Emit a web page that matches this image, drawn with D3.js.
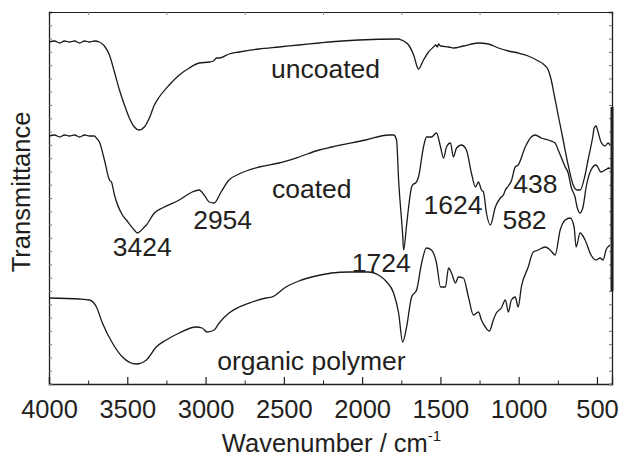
<!DOCTYPE html>
<html>
<head>
<meta charset="utf-8">
<script src="https://cdn.jsdelivr.net/npm/d3@7"></script>
<style>
  body { margin: 0; background: #fff; }
  text { font-family: "Liberation Sans", Arial, sans-serif; fill: #231f20; }
</style>
</head>
<body>
<div id="ftir-chart"></div>
<script>
// wavenumber (cm-1) and transmittance (a.u.)
var uncoatedWave = [4000,3964,3932,3901,3869,3837,3805,3773,3741,3710,3678,3646,3614,3582,3550,3518,3487,3455,3423,3391,3359,3327,3296,3232,3168,3104,3041,2977,2950,2930,2913,2850,2786,2659,2531,2404,2276,2213,2022,1767,1750,1735,1703,1671,1640,1608,1576,1544,1530,1520,1512,1499,1448,1417,1353,1257,1194,1130,1066,1003,939,875,843,811,792,773,748,716,684,652,627,608,576,557,525,518,506,493,474,448,429,417];
var uncoatedT = [342,343,341,343,342,343,341,343,342,343,342,338,329,312,294,279,266,257,254,257,266,279,287,299,309,316,321,322,323,326,326,330,332,335,337,339,341,342,344,345,344,343,339,329,315,324,332,337,339,337,340,338,337,336,338,341,340,336,333,331,328,323,320,314,304,289,269,244,219,199,194,194,209,224,249,256,258,252,242,238,241,239];

var coatedWave = [4000,3964,3932,3901,3869,3837,3805,3773,3741,3710,3697,3678,3646,3614,3601,3582,3531,3506,3455,3436,3423,3391,3378,3327,3276,3168,3085,3041,3009,2977,2945,2901,2850,2786,2659,2531,2404,2276,2194,1978,1831,1799,1780,1767,1741,1735,1716,1703,1684,1671,1658,1640,1608,1589,1557,1525,1499,1480,1461,1436,1417,1397,1366,1334,1302,1276,1257,1238,1225,1206,1181,1149,1117,1098,1085,1066,1047,1022,1003,958,920,894,856,811,767,748,729,703,684,665,640,627,608,589,569,538,506,474,448,423,417];
var coatedT = [248,249,247,249,248,249,247,249,248,248,246,242,224,204,202,189,169,164,154,151,152,157,159,171,176,184,192,194,189,182,181,192,204,210,217,221,227,234,237,244,249,249,244,204,149,134,159,177,197,200,201,207,237,247,247,251,237,226,237,241,227,236,239,234,211,197,202,194,192,171,159,177,186,189,194,198,203,217,219,237,247,249,246,244,241,234,227,217,211,197,187,177,171,177,197,214,219,212,214,216,215];

var polymerWave = [4000,3805,3741,3697,3659,3595,3531,3442,3378,3315,3251,3168,3060,3022,2990,2945,2913,2850,2786,2703,2614,2576,2487,2404,2296,2194,2085,1958,1895,1843,1799,1767,1741,1716,1684,1652,1620,1589,1557,1525,1499,1468,1448,1429,1404,1385,1353,1321,1289,1257,1238,1213,1187,1162,1143,1111,1085,1066,1047,1022,1003,983,939,907,875,831,799,767,735,703,671,646,633,608,576,538,506,480,461,442,417];
var polymerT = [86,85,84,77,61,41,27,20,24,37,44,51,57,56,52,54,61,71,77,82,86,87,97,103,108,111,112,112,109,102,91,71,42,57,87,94,121,136,134,121,97,97,116,111,101,107,106,87,69,72,64,57,53,64,71,76,84,72,84,87,77,97,117,132,134,137,134,129,154,164,166,157,137,151,144,129,124,126,124,134,139];

var xTicks = [4000,3500,3000,2500,2000,1500,1000,500];
var minorTicks = [3750,3250,2750,2250,1750,1250,750];

var labels = [
  {text: "uncoated", w: 2582, t: 306, anchor: "start"},
  {text: "coated", w: 2576, t: 186, anchor: "start"},
  {text: "3424", w: 3404, t: 128, anchor: "middle"},
  {text: "2954", w: 2891, t: 155, anchor: "middle"},
  {text: "1624", w: 1420, t: 170, anchor: "middle"},
  {text: "582", w: 1104, t: 155, anchor: "start"},
  {text: "438", w: 1034, t: 191, anchor: "start"},
  {text: "1724", w: 2066, t: 112, anchor: "start"},
  {text: "organic polymer", w: 2926, t: 14, anchor: "start"}
];

var margin = {top: 12, right: 10, bottom: 76, left: 49};
var width = 622 - margin.left - margin.right;
var height = 460 - margin.top - margin.bottom;

var svg = d3.select("#ftir-chart").append("svg")
  .attr("width", 622)
  .attr("height", 460)
  .append("g")
  .attr("transform", "translate(" + margin.left + "," + margin.top + ")");

var x = d3.scaleLinear().domain([4000, 404]).range([0, width]);
var y = d3.scaleLinear().domain([0, 372]).range([height, 0]);

var ink = "#231f20";

// bottom axis: major ticks with labels, minor ticks in between
var bottom = svg.append("g")
  .attr("transform", "translate(0," + height + ")")
  .call(d3.axisBottom(x).tickValues(xTicks).tickSize(-7).tickPadding(16).tickFormat(d3.format("d")));
bottom.select(".domain").attr("stroke", ink).attr("stroke-width", 1.3);
bottom.selectAll(".tick line").attr("stroke", ink).attr("stroke-width", 1.2);
bottom.selectAll(".tick text").attr("font-size", "25.5px").attr("fill", ink)
  .attr("font-family", "Liberation Sans, Arial, sans-serif");
svg.append("g")
  .attr("transform", "translate(0," + height + ")")
  .call(d3.axisBottom(x).tickValues(minorTicks).tickSize(-3.5).tickFormat(""))
  .call(function(g) { g.select(".domain").remove(); g.selectAll("line").attr("stroke", ink); });

// top axis, minor ticks only
svg.append("g")
  .call(d3.axisTop(x).tickValues(minorTicks).tickSize(-3).tickFormat(""))
  .call(function(g) { g.select(".domain").attr("stroke", ink).attr("stroke-width", 1.2); g.selectAll("line").attr("stroke", "#888"); });

// left / right axes, unlabeled ticks
var yTicks = d3.range(0, 372, 372 / 28);
svg.append("g")
  .call(d3.axisLeft(y).tickValues(yTicks).tickSize(-3).tickFormat(""))
  .call(function(g) { g.select(".domain").attr("stroke", ink).attr("stroke-width", 1.3); g.selectAll("line").attr("stroke", "#777"); });
svg.append("g")
  .attr("transform", "translate(" + width + ",0)")
  .call(d3.axisRight(y).tickValues(yTicks).tickSize(-3).tickFormat(""))
  .call(function(g) { g.select(".domain").attr("stroke", ink).attr("stroke-width", 1.3); g.selectAll("line").attr("stroke", "#777"); });

// heavy stretch on the right frame, as in the scan
svg.append("line")
  .attr("x1", width).attr("x2", width)
  .attr("y1", y(277)).attr("y2", y(93))
  .attr("stroke", ink).attr("stroke-width", 3);

var line = d3.line()
  .x(function(d) { return x(d[0]); })
  .y(function(d) { return y(d[1]); })
  .curve(d3.curveMonotoneX);

var series = [
  d3.zip(uncoatedWave, uncoatedT),
  d3.zip(coatedWave, coatedT),
  d3.zip(polymerWave, polymerT)
];

svg.selectAll(".spectrum")
  .data(series)
  .enter().append("path")
  .attr("class", "spectrum")
  .attr("d", line)
  .attr("fill", "none")
  .attr("stroke", "#1a1a1a")
  .attr("stroke-width", 1.3);

svg.selectAll(".peak")
  .data(labels)
  .enter().append("text")
  .attr("class", "peak")
  .attr("x", function(d) { return x(d.w); })
  .attr("y", function(d) { return y(d.t); })
  .attr("text-anchor", function(d) { return d.anchor; })
  .attr("font-size", "26.5px")
  .text(function(d) { return d.text; });

// axis titles
svg.append("text")
  .attr("transform", "rotate(-90)")
  .attr("x", -180)
  .attr("y", -19)
  .attr("text-anchor", "middle")
  .attr("font-size", "25.5px")
  .text("Transmittance");

var xt = svg.append("text")
  .attr("x", width / 2 + 1)
  .attr("y", height + 68)
  .attr("text-anchor", "middle")
  .attr("font-size", "25.5px");
xt.append("tspan").text("Wavenumber / cm");
xt.append("tspan").attr("dy", -11).attr("font-size", "15px").text("-1");
</script>
</body>
</html>
